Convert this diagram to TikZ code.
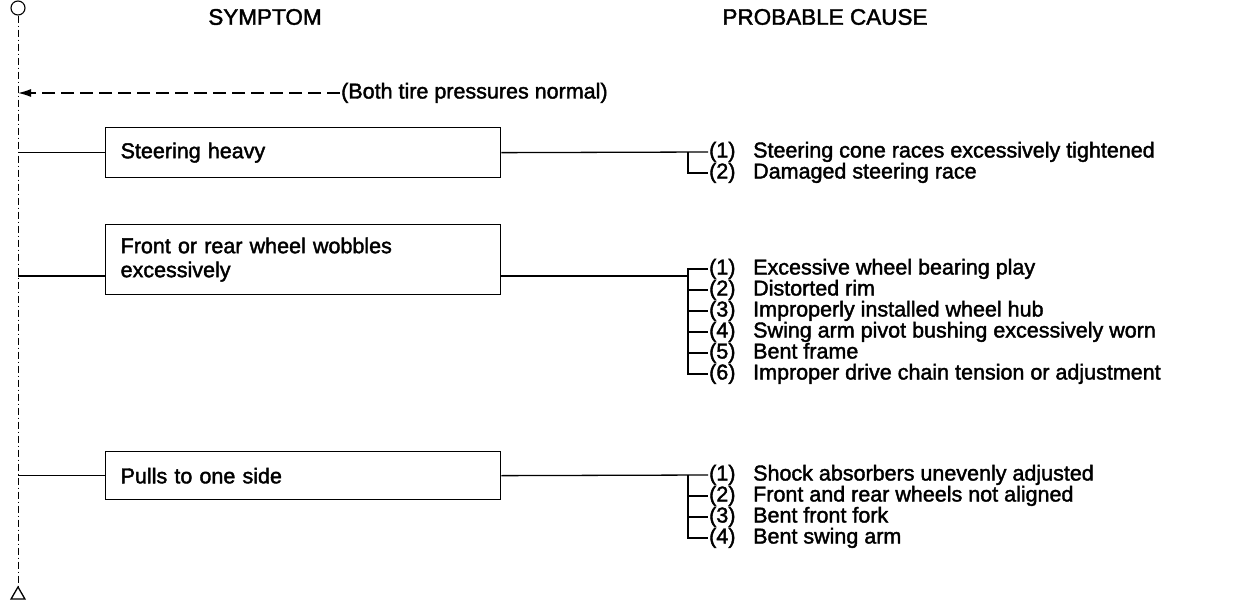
\documentclass[tikz,border=0pt]{standalone}
\usepackage{fontspec}
\setmainfont{Liberation Sans}[FakeBold=1.8]
\usetikzlibrary{arrows.meta,shapes.geometric}
\begin{document}
\begin{tikzpicture}[x=1pt,y=-1pt,
  txt/.style={font=\fontsize{21.5}{24}\selectfont, inner ysep=0pt, inner xsep=0pt, text height=15pt, text depth=4pt},
  head/.style={font=\fontsize{22.5}{24}\selectfont, inner sep=0pt},
  symbox/.style={draw, line width=1.3pt, anchor=north west, minimum width=395pt,
    text width=365pt, inner xsep=15pt, align=left,
    font=\fontsize{21.5}{24}\selectfont},
  num/.style={txt, anchor=west, inner xsep=1pt},
  cause/.style={txt, anchor=west},
  wire/.style={line width=1.3pt},
  spine/.style={line width=0.8pt, dash pattern=on 7pt off 3pt on 1pt off 3pt},
  note/.style={line width=1.3pt, dash pattern=on 13pt off 6pt}
]
\useasboundingbox (0,0) rectangle (1235,610);

% spine
\node[draw, circle, line width=1.1pt, minimum size=14pt, inner sep=0pt] (start) at (18,8) {};
\node[draw, regular polygon, regular polygon sides=3, line width=1.3pt, minimum size=16pt, inner sep=0pt] (end) at (18,595) {};
\draw[spine] (start.south) -- (end.north);

% headings
\node[head] (h1) at (265,17) {SYMPTOM};
\node[head] (h2) at (825,17) {PROBABLE CAUSE};

% note
\node[txt, anchor=west, inner xsep=1pt] (note) at (340,93) {(Both tire pressures normal)};
\draw[note, -{Latex[length=13pt,width=8pt]}] (note.west) -- (start |- note.west);

% group 1
\node[symbox, minimum height=50pt] (b1) at (105,127) {Steering heavy};
\coordinate (k1) at (688,152);
\node[num] (g1n1) at (708,152) {(1)};
\node[cause] (g1t1) at (753,152) {Steering cone races excessively tightened};
\node[num] (g1n2) at (708,173) {(2)};
\node[cause] (g1t2) at (753,173) {Damaged steering race};
\draw[wire] (start |- b1.west) -- (b1.west);
\draw[wire] (b1.east) -- (g1n1.west);
\draw[wire] (k1) |- (g1n2.west);

% group 2
\node[symbox, minimum height=70pt] (b2) at (105,224) {Front or rear wheel wobbles\\excessively};
\coordinate (k2) at (688,276);
\node[num] (g2n1) at (708,269) {(1)};
\node[cause] (g2t1) at (753,269) {Excessive wheel bearing play};
\node[num] (g2n2) at (708,290) {(2)};
\node[cause] (g2t2) at (753,290) {Distorted rim};
\node[num] (g2n3) at (708,311) {(3)};
\node[cause] (g2t3) at (753,311) {Improperly installed wheel hub};
\node[num] (g2n4) at (708,332) {(4)};
\node[cause] (g2t4) at (753,332) {Swing arm pivot bushing excessively worn};
\node[num] (g2n5) at (708,353) {(5)};
\node[cause] (g2t5) at (753,353) {Bent frame};
\node[num] (g2n6) at (708,374) {(6)};
\node[cause] (g2t6) at (753,374) {Improper drive chain tension or adjustment};
\draw[wire] (start |- k2) -- (b2.west |- k2);
\draw[wire] (b2.east |- k2) -- (k2);
\draw[wire] (g2n1.west) -| (k2) |- (g2n6.west);
\foreach \i in {2,...,5} { \draw[wire] (k2 |- g2n\i.west) -- (g2n\i.west); }

% group 3
\node[symbox, minimum height=48pt] (b3) at (105,451) {Pulls to one side};
\coordinate (k3) at (688,475);
\node[num] (g3n1) at (708,475) {(1)};
\node[cause] (g3t1) at (753,475) {Shock absorbers unevenly adjusted};
\node[num] (g3n2) at (708,496) {(2)};
\node[cause] (g3t2) at (753,496) {Front and rear wheels not aligned};
\node[num] (g3n3) at (708,517) {(3)};
\node[cause] (g3t3) at (753,517) {Bent front fork};
\node[num] (g3n4) at (708,538) {(4)};
\node[cause] (g3t4) at (753,538) {Bent swing arm};
\draw[wire] (start |- b3.west) -- (b3.west);
\draw[wire] (b3.east) -- (g3n1.west);
\draw[wire] (k3) |- (g3n4.west);
\foreach \i in {2,3} { \draw[wire] (k3 |- g3n\i.west) -- (g3n\i.west); }
\end{tikzpicture}
\end{document}
